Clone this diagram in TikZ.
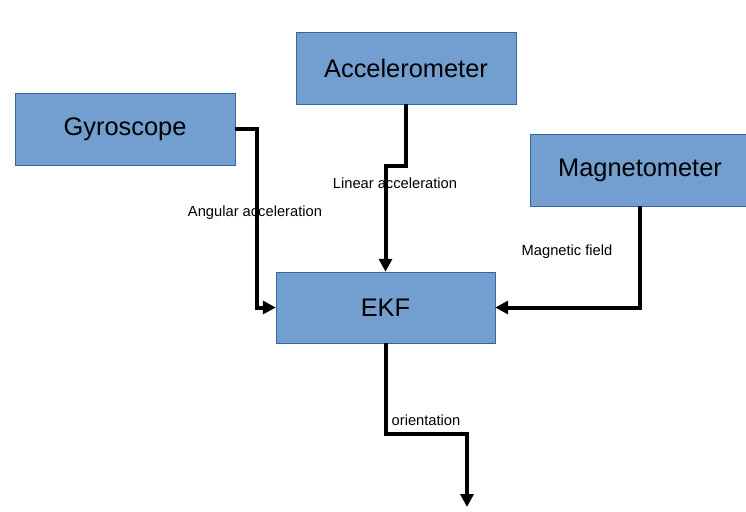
\documentclass[tikz,border=0pt]{standalone}
\usepackage{fontspec}
\setmainfont{Liberation Sans}
\usetikzlibrary{arrows.meta,positioning,calc}
\definecolor{boxfill}{HTML}{729FCF}
\definecolor{boxline}{HTML}{3465A4}

\begin{document}
\begin{tikzpicture}[x=1pt, y=-1pt, > = {Triangle[length=13pt, width=13pt]}]
            % Estilos
            \tikzstyle{block}=[rectangle, draw=boxline, fill=boxfill, minimum width=220pt, minimum height=72pt, inner sep=0pt, font=\fontsize{25.4}{30}\selectfont]
            \tikzstyle{signal}=[inner sep=0pt, font=\fontsize{14.7}{17}\selectfont]
            \tikzstyle{wire}=[->, line width=4pt]

            \clip (0,0) rectangle (746,511);

            % Blocos
            \node[block] (gyro) at (125,129) {Gyroscope};
            \node[block] (acc) at (406,68) {Accelerometer};
            \node[block, minimum width=240pt] (mag) at (650,170) {\hspace*{-20pt}Magnetometer};
            \node[block, minimum width=219pt, minimum height=71pt] (ekf) at (385.5,307.5) {EKF};
            \coordinate (magout) at (640,206);
            \coordinate (out) at (467,507);

            % Sinais
            \node[signal] (angl) at (255,213) {Angular acceleration};
            \node[signal] (lin) at (395,183) {Linear acceleration};
            \node[signal] (magf) at (567,252) {Magnetic field};
            \node[signal] (ori) at (426,420) {orientation};

            % Setas
            \draw[wire] (gyro.east) -- ++(22,0) |- (ekf.west);
            \draw[wire] (acc.south) -- ++(0,62) -| (ekf.north);
            \draw[wire] (magout) |- (ekf.east);
            \draw[wire] (ekf.south) -- ++(0,91) -| (out);
\end{tikzpicture}
\end{document}
